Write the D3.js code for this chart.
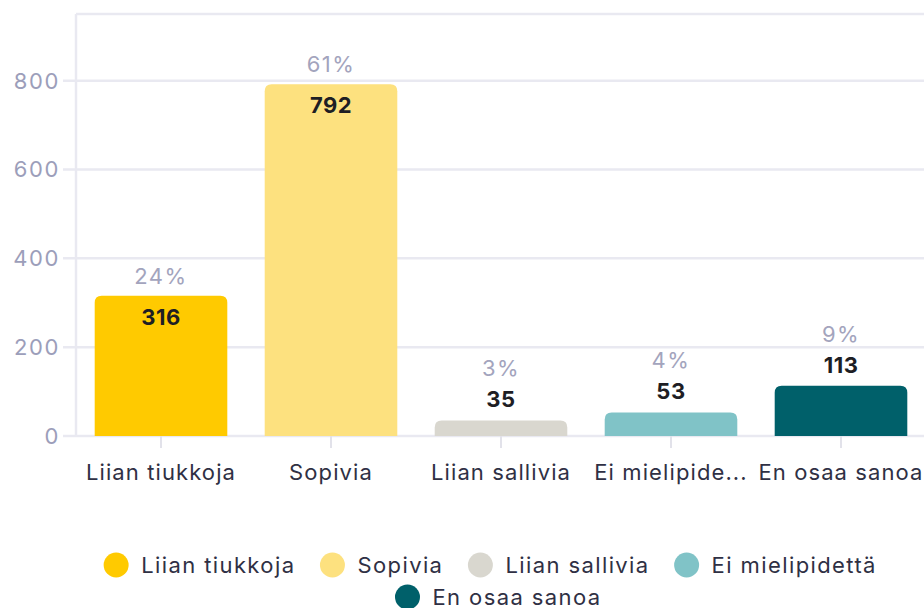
<!DOCTYPE html>
<html>
<head>
<meta charset="utf-8">
<title>Vastaukset</title>
<script src="https://cdn.jsdelivr.net/npm/d3@7"></script>
<style>
  body { margin: 0; background: #fff; }
  svg text { font-family: Inter, "Open Sans", sans-serif; font-size: 22px; letter-spacing: 1.1px; }
</style>
</head>
<body>
<svg width="924" height="608"></svg>
<script>
// data
var categories = ["Liian tiukkoja", "Sopivia", "Liian sallivia", "Ei mielipidettä", "En osaa sanoa"];
var axisLabels = ["Liian tiukkoja", "Sopivia", "Liian sallivia", "Ei mielipide...", "En osaa sanoa"];
var counts = [316, 792, 35, 53, 113];
var percents = ["24%", "61%", "3%", "4%", "9%"];
var yTicks = [0, 200, 400, 600, 800];
var colors = ["#ffca00", "#fde17f", "#d9d7cf", "#80c3c7", "#00606a"];

var svg = d3.select("svg");

var x = d3.scaleBand()
    .domain(categories)
    .range([76, 926])
    .paddingInner(0.22)
    .paddingOuter(0.11);

var y = d3.scaleLinear()
    .domain([0, 950])
    .range([436, 14]);

// grid + frame
svg.append("g")
  .selectAll("line")
  .data(yTicks.concat([950]))
  .enter().append("line")
    .attr("x1", function(d) { return d === 950 ? 76 : 63; })
    .attr("x2", 924)
    .attr("y1", function(d) { return y(d); })
    .attr("y2", function(d) { return y(d); })
    .attr("stroke", "#e9e9f1")
    .attr("stroke-width", 2.5);

svg.append("line")
    .attr("x1", 76).attr("x2", 76)
    .attr("y1", y(950)).attr("y2", y(0))
    .attr("stroke", "#e9e9f1")
    .attr("stroke-width", 2.5);

// y tick labels
svg.append("g")
  .selectAll("text")
  .data(yTicks)
  .enter().append("text")
    .attr("x", 60)
    .attr("y", function(d) { return y(d) + 8; })
    .attr("text-anchor", "end")
    .attr("fill", "#9c9eba")
    .style("letter-spacing", "1.6px")
    .text(function(d) { return d; });

// x ticks
svg.append("g")
  .selectAll("line")
  .data(categories)
  .enter().append("line")
    .attr("x1", function(d) { return x(d) + x.bandwidth() / 2; })
    .attr("x2", function(d) { return x(d) + x.bandwidth() / 2; })
    .attr("y1", y(0))
    .attr("y2", y(0) + 12)
    .attr("stroke", "#e2e2ea")
    .attr("stroke-width", 2);

svg.append("g")
  .selectAll("text")
  .data(categories)
  .enter().append("text")
    .attr("x", function(d) { return x(d) + x.bandwidth() / 2; })
    .attr("y", 480)
    .attr("text-anchor", "middle")
    .attr("fill", "#2f3044")
    .text(function(d, i) { return axisLabels[i]; });

// bars with rounded top corners
function barPath(d, i) {
  var x0 = x(categories[i]), w = x.bandwidth();
  var top = y(d), bot = y(0), r = Math.min(7, (bot - top) / 2);
  return "M" + x0 + "," + bot +
    "V" + (top + r) +
    "Q" + x0 + "," + top + " " + (x0 + r) + "," + top +
    "H" + (x0 + w - r) +
    "Q" + (x0 + w) + "," + top + " " + (x0 + w) + "," + (top + r) +
    "V" + bot + "Z";
}

svg.append("g")
  .selectAll("path")
  .data(counts)
  .enter().append("path")
    .attr("d", barPath)
    .attr("fill", function(d, i) { return colors[i]; });

// value + percent labels
function inside(d) { return y(0) - y(d) > 60; }

svg.append("g")
  .selectAll("text")
  .data(counts)
  .enter().append("text")
    .attr("x", function(d, i) { return x(categories[i]) + x.bandwidth() / 2; })
    .attr("y", function(d) { return inside(d) ? y(d) + 29 : y(d) - 13; })
    .attr("text-anchor", "middle")
    .attr("font-weight", "bold")
    .attr("fill", "#1e1e24")
    .style("letter-spacing", "0.5px")
    .text(function(d) { return d; });

svg.append("g")
  .selectAll("text")
  .data(counts)
  .enter().append("text")
    .attr("x", function(d, i) { return x(categories[i]) + x.bandwidth() / 2; })
    .attr("y", function(d) { return inside(d) ? y(d) - 12 : y(d) - 44; })
    .attr("text-anchor", "middle")
    .attr("fill", "#a3a4bd")
    .style("letter-spacing", "1.5px")
    .text(function(d, i) { return percents[i]; });

// legend
var legendRows = [[0, 1, 2, 3], [4]];
var rowCenters = [490, 498];
var lg = svg.append("g");
legendRows.forEach(function(row, r) {
  var items = [], total = 0;
  row.forEach(function(i) {
    var t = lg.append("text")
      .attr("fill", "#2f3044")
      .attr("y", 573 + r * 32)
      .style("letter-spacing", "1.4px")
      .text(categories[i]);
    var w = t.node().getComputedTextLength();
    items.push({ i: i, t: t, w: w });
    total += 38 + w;
  });
  total += (row.length - 1) * 24;
  var cx = rowCenters[r] - total / 2;
  items.forEach(function(it) {
    lg.append("circle")
      .attr("cx", cx + 13)
      .attr("cy", 565 + r * 32)
      .attr("r", 12.5)
      .attr("fill", colors[it.i]);
    it.t.attr("x", cx + 38);
    cx += 38 + it.w + 24;
  });
});
</script>
</body>
</html>
